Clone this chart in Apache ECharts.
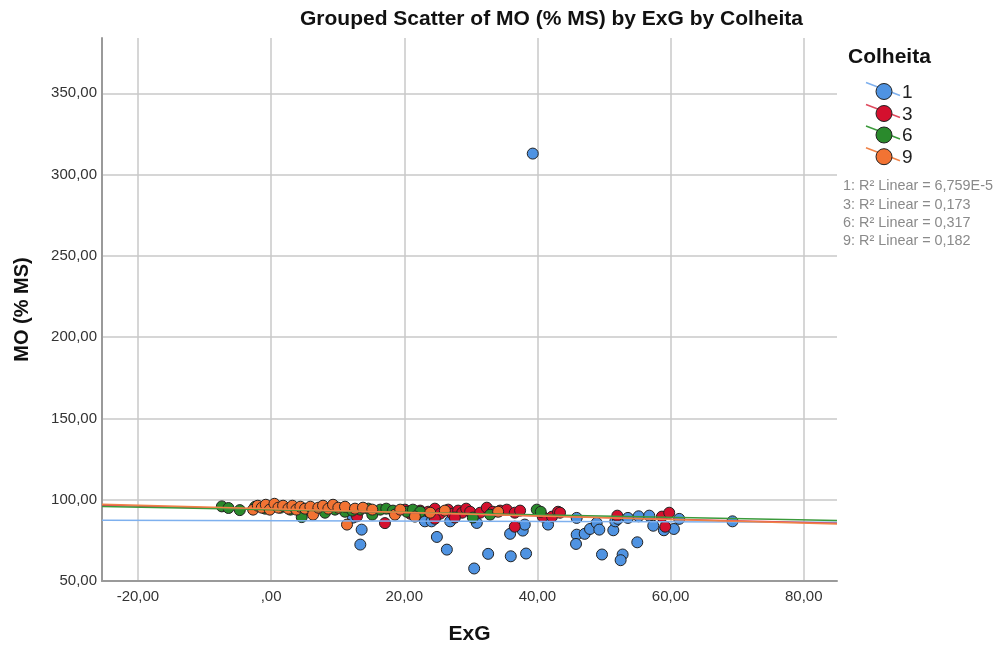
<!DOCTYPE html>
<html>
<head>
<meta charset="utf-8">
<script src="https://cdn.jsdelivr.net/npm/echarts@6/dist/echarts.min.js"></script>
<style>html,body{margin:0;padding:0;background:#fff;}#c{width:996px;height:650px;}</style>
</head>
<body>
<div id="c"></div>
<script>
// ---- data ----
const categories = ['1', '3', '6', '9'];
const r2Values = ['6,759E-5', '0,173', '0,317', '0,182'];

const exg1 = [39.3, 13.6, 13.4, 12.3, 24.9, 26.4, 30.5, 32.6, 36.0, 38.3, 35.9, 37.8, 38.1, 41.6, 23.1, 24.1, 26.9, 30.9, 45.9, 45.9, 45.8, 47.1, 47.9, 48.9, 49.3, 49.7, 51.4, 51.7, 52.1, 52.8, 52.5, 53.6, 55.0, 55.2, 56.8, 57.4, 59.0, 60.5, 61.3, 69.3];
const mo1  = [312.9, 81.6, 72.4, 89.0, 77.1, 69.3, 57.7, 66.7, 65.2, 66.9, 79.0, 81.0, 84.7, 84.7, 86.7, 86.7, 86.7, 85.7, 88.8, 78.5, 72.8, 79.0, 82.0, 85.7, 81.6, 66.3, 81.2, 86.7, 88.2, 66.3, 62.8, 88.8, 73.8, 89.8, 90.2, 84.0, 81.2, 82.0, 88.2, 86.7];

const exg3 = [17.1, 12.9, 20.1, 20.9, 22.4, 23.6, 24.6, 25.4, 26.6, 27.2, 28.1, 28.7, 29.3, 29.9, 31.4, 32.4, 33.3, 34.4, 35.4, 36.6, 36.6, 37.4, 40.8, 42.2, 43.1, 43.4, 52.0, 58.7, 59.8, 59.2, 27.6, 24.6];
const mo3  = [85.6, 89.8, 93.9, 91.4, 93.3, 92.6, 94.5, 91.4, 93.9, 91.4, 93.3, 92.0, 94.5, 92.6, 92.0, 95.1, 92.6, 93.3, 93.9, 92.0, 83.4, 93.3, 89.6, 89.6, 92.6, 92.0, 90.2, 89.6, 92.0, 83.4, 89.0, 88.3];

const exg6 = [-7.4, -6.4, -4.7, -2.4, -0.9, 1.4, 2.9, 4.6, 5.9, 8.1, 9.6, 11.1, 12.2, 13.4, 14.6, 15.2, 16.4, 17.3, 18.3, 20.4, 21.3, 22.4, 30.3, 32.9, 39.9, 40.5];
const mo6  = [95.9, 94.9, 93.6, 95.7, 94.5, 95.1, 93.9, 89.3, 93.3, 92.0, 93.9, 92.6, 93.3, 93.9, 94.5, 90.8, 93.9, 94.5, 93.3, 92.6, 93.9, 92.6, 89.0, 90.8, 93.9, 92.6];

const exg9 = [-2.7, -2.0, -1.4, -0.8, -0.2, 0.5, 1.1, 1.8, 2.6, 3.2, 3.8, 4.4, 5.1, 5.9, 6.3, 7.1, 7.8, 8.6, 9.3, 10.1, 11.1, 11.4, 12.6, 13.8, 15.2, 18.6, 19.4, 21.6, 23.9, 26.1, 34.1];
const mo9  = [93.9, 96.3, 95.1, 96.9, 93.9, 97.5, 95.1, 96.3, 94.5, 96.3, 93.9, 95.7, 94.5, 95.7, 90.8, 95.1, 96.3, 94.5, 96.9, 95.1, 95.7, 84.7, 94.5, 95.1, 93.9, 90.8, 93.9, 89.6, 92.0, 93.3, 92.6];

// fit-line end values (at the x-axis extent)
const fitX = [-25.4, 85];
const fit1 = [87.3, 86.1];
const fit3 = [96.6, 85.5];
const fit6 = [95.9, 87.2];
const fit9 = [97.2, 85.1];

const yTicks = [50, 100, 150, 200, 250, 300, 350];
const xTicks = [-20, 0, 20, 40, 60, 80];

// ---- styling ----
const fillColors = ['#4f93e2', '#d4102e', '#2a8a2c', '#f27333'];
const lineColors = ['#7eb0ee', '#df4a5e', '#3b9a3b', '#f08246'];
const FONT = '"Liberation Sans", Arial, sans-serif';

function fmt(v) {
  let s = Math.abs(v).toFixed(2).replace('.', ',');
  if (s.startsWith('0,')) s = s.slice(1);
  return (v < 0 ? '-' : '') + s;
}
function zip(a, b) { return a.map((v, i) => [v, b[i]]); }

const pts = [[exg1, mo1], [exg3, mo3], [exg6, mo6], [exg9, mo9]];
const fits = [fit1, fit3, fit6, fit9];

const series = [];
categories.forEach((c, i) => {
  series.push({
    name: c, type: 'scatter', data: zip(pts[i][0], pts[i][1]),
    symbolSize: 11, z: 2,
    itemStyle: { color: fillColors[i], borderColor: '#222', borderWidth: 1, opacity: 1 },
    emphasis: { disabled: true }
  });
});
categories.forEach((c, i) => {
  series.push({
    name: c + ' fit', type: 'line', data: zip(fitX, fits[i]),
    symbol: 'none', z: 3, silent: true,
    lineStyle: { color: lineColors[i], width: 1.5 }
  });
});

// legend as graphic
const graphic = [
  { type: 'text', left: 300, top: 9, style: { text: 'Grouped Scatter of MO (% MS) by ExG by Colheita', font: 'bold 21px ' + FONT, fill: '#111' } },
  { type: 'text', left: 848, top: 47, style: { text: 'Colheita', font: 'bold 21px ' + FONT, fill: '#111' } }
];
const legendY = [91.5, 113.5, 135, 156.7];
categories.forEach((c, i) => {
  const cy = legendY[i];
  graphic.push({ type: 'line', shape: { x1: 866, y1: cy - 9, x2: 900, y2: cy + 4 }, style: { stroke: lineColors[i], lineWidth: 1.5 }, z: 10 });
  graphic.push({ type: 'circle', shape: { cx: 884, cy: cy, r: 8 }, style: { fill: fillColors[i], stroke: '#222', lineWidth: 1 }, z: 11 });
  graphic.push({ type: 'text', x: 902, y: cy + 1, style: { text: c, font: '19px ' + FONT, fill: '#222', textVerticalAlign: 'middle', verticalAlign: 'middle' }, z: 11 });
  graphic.push({ type: 'text', x: 843, y: 186.5 + i * 18.2, style: { text: c + ': R² Linear = ' + r2Values[i], font: '14.4px ' + FONT, fill: '#8a8a8a', verticalAlign: 'middle', textVerticalAlign: 'middle' }, z: 11 });
});

const chart = echarts.init(document.getElementById('c'), null, { renderer: 'canvas' });
chart.setOption({
  animation: false,
  backgroundColor: '#fff',
  grid: { left: 102, right: 159, top: 38, bottom: 68, containLabel: false },
  xAxis: {
    type: 'value', min: fitX[0], max: fitX[1], minInterval: 20, maxInterval: 20,
    name: 'ExG', nameLocation: 'middle', nameGap: 43,
    nameTextStyle: { fontFamily: FONT, fontWeight: 'bold', fontSize: 21, color: '#111' },
    axisLine: { show: true, onZero: false, lineStyle: { color: '#9a9a9a', width: 2 } },
    axisTick: { show: false },
    axisLabel: { fontFamily: FONT, fontSize: 15, color: '#333', margin: 8,
      formatter: v => xTicks.some(t => Math.abs(t - v) < 1e-6) ? fmt(v) : '' },
    splitLine: { show: true, showMinLine: false, showMaxLine: false, lineStyle: { color: '#c9c9c9', width: 1.5 } }
  },
  yAxis: {
    type: 'value', min: 50, max: 384, interval: 50,
    name: 'MO (% MS)', nameLocation: 'middle', nameGap: 70,
    nameTextStyle: { fontFamily: FONT, fontWeight: 'bold', fontSize: 20, color: '#111' },
    axisLine: { show: true, onZero: false, lineStyle: { color: '#9a9a9a', width: 2 } },
    axisTick: { show: false },
    axisLabel: { fontFamily: FONT, fontSize: 15, color: '#333', margin: 5,
      formatter: v => yTicks.some(t => Math.abs(t - v) < 1e-6) ? fmt(v) : '' },
    splitLine: { show: true, showMinLine: false, showMaxLine: false, lineStyle: { color: '#c9c9c9', width: 1.5 } }
  },
  series: series,
  graphic: graphic
});
</script>
</body>
</html>
